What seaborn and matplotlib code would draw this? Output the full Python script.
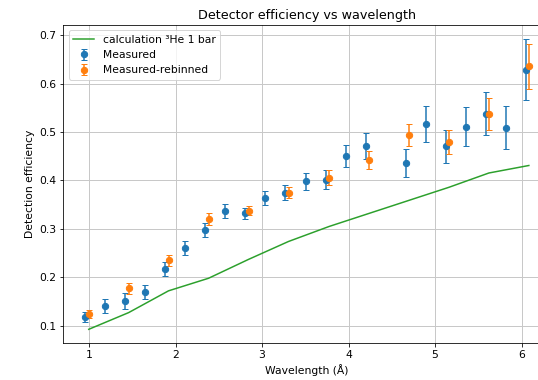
import matplotlib
matplotlib.use("Agg")
import matplotlib.pyplot as plt
import seaborn as sns
import pandas as pd

# Measured
meas_x = [0.957, 1.188, 1.419, 1.650, 1.881, 2.112, 2.343, 2.574, 2.805, 3.036, 3.267,
          3.506, 3.737, 3.968, 4.199, 4.661, 4.892, 5.122, 5.353, 5.584, 5.815, 6.046]
meas_y = [0.118, 0.140, 0.151, 0.170, 0.218, 0.260, 0.297, 0.336, 0.332, 0.364, 0.375,
          0.398, 0.402, 0.451, 0.472, 0.437, 0.517, 0.471, 0.511, 0.538, 0.509, 0.629]
meas_err = [0.010, 0.0145, 0.016, 0.0145, 0.0145, 0.014, 0.0145, 0.0145, 0.012, 0.015, 0.016,
            0.018, 0.020, 0.023, 0.027, 0.029, 0.037, 0.034, 0.040, 0.045, 0.044, 0.0635]

# Measured-rebinned
reb_x = [0.997, 1.458, 1.919, 2.382, 2.844, 3.306, 3.775, 4.237, 4.699, 5.161, 5.622, 6.084]
reb_y = [0.124, 0.177, 0.235, 0.320, 0.338, 0.375, 0.406, 0.442, 0.494, 0.480, 0.538, 0.636]
reb_err = [0.009, 0.011, 0.012, 0.012, 0.010, 0.011, 0.015, 0.018, 0.023, 0.025, 0.033, 0.0466]

# Calculation 3He 1 bar
calc_x = reb_x
calc_y = [0.0925, 0.127, 0.172, 0.198, 0.237, 0.274, 0.305, 0.332, 0.359, 0.386, 0.4155, 0.431]

plt.rcParams["font.size"] = 10.7

fig = plt.figure(figsize=(538 / 72, 380 / 72), dpi=72)
ax = fig.add_axes([63.3 / 538, 1 - 343.3 / 380, (551 - 63.3) / 538, (343.3 - 25) / 380])

calc_df = pd.DataFrame({"x": calc_x, "y": calc_y})
sns.lineplot(data=calc_df, x="x", y="y", ax=ax, color="#2ca02c", linewidth=1.5,
             label="calculation ³He 1 bar", sort=False)
ax.errorbar(meas_x, meas_y, yerr=meas_err, fmt="o", color="#1f77b4", capsize=3,
            markersize=6.3, label="Measured")
ax.errorbar(reb_x, reb_y, yerr=reb_err, fmt="o", color="#ff7f0e", capsize=3,
            markersize=6.3, label="Measured-rebinned")

ax.set_xlim(0.703, 6.34)
ax.set_ylim(0.0636, 0.7213)
ax.set_xticks([1, 2, 3, 4, 5, 6])
ax.set_yticks([0.1, 0.2, 0.3, 0.4, 0.5, 0.6, 0.7])
ax.grid(True, color="#c8c8c8", linewidth=1.0)
ax.set_axisbelow(True)
ax.set_title("Detector efficiency vs wavelength", fontsize=12.8)
ax.set_xlabel("Wavelength (Å)")
ax.set_ylabel("Detection efficiency")
ax.legend(loc="upper left")

fig.savefig("out.png", dpi=72)
